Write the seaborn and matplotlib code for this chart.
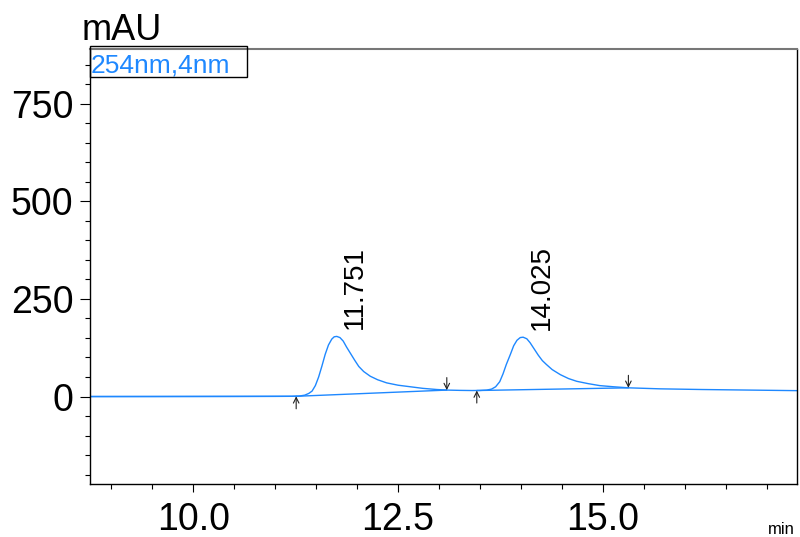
import matplotlib
matplotlib.use("Agg")
import matplotlib.pyplot as plt
from matplotlib.ticker import MultipleLocator, FixedLocator
from matplotlib.patches import Rectangle
import seaborn as sns
import pandas as pd

# chromatogram trace (min, mAU)
time_min = [8.74, 9.5, 10.5, 11.0, 11.2, 11.30, 11.36, 11.41, 11.45, 11.49,
            11.53, 11.57, 11.61, 11.65, 11.69, 11.72, 11.751, 11.79, 11.83, 11.87,
            11.92, 11.97, 12.02, 12.08, 12.16, 12.25, 12.36, 12.50, 12.65, 12.80,
            12.97, 13.10, 13.25, 13.40, 13.50, 13.58, 13.64, 13.69, 13.74, 13.78,
            13.82, 13.87, 13.91, 13.95, 13.99, 14.025, 14.07, 14.11, 14.16, 14.21,
            14.26, 14.31, 14.38, 14.48, 14.58, 14.68, 14.82, 14.96, 15.13, 15.31,
            15.70, 16.20, 16.80, 17.40]
signal_mau = [0.0, 0.0, 0.2, 0.4, 0.6, 1.5, 3.5, 8, 14, 28,
              50, 78, 108, 132, 147, 153, 154, 151, 142, 127,
              110, 93, 77, 64, 52, 43, 35, 29, 25, 21,
              18, 16.5, 15.8, 15.4, 15.6, 16.5, 19, 25, 38, 58,
              82, 108, 130, 144, 151, 152, 148, 138, 122, 106,
              92, 82, 69, 56, 46, 39, 33, 28, 25, 22.3,
              19.7, 18, 16.5, 15]

# integration baselines: start/end of each peak
peak_rt = [11.751, 14.025]
peak_top = [154, 152]
base_start_t = [11.256, 13.46]
base_start_v = [0.6, 15.4]
base_end_t = [13.094, 15.31]
base_end_v = [16.5, 22.3]

trace_color = "#1e88ff"

sns.set_style("ticks")
plt.rcParams["font.family"] = ["Liberation Sans", "DejaVu Sans"]
plt.rcParams["text.color"] = "black"
plt.rcParams["xtick.color"] = "black"
plt.rcParams["ytick.color"] = "black"

fig = plt.figure(figsize=(8, 5.37), dpi=100)
ax = fig.add_axes([0.1125, 0.0987, 0.884, 0.810])

df = pd.DataFrame({"t": time_min, "v": signal_mau})
sns.lineplot(data=df, x="t", y="v", ax=ax, color=trace_color, lw=1.0,
             sort=False, estimator=None)

arrow_style = dict(arrowstyle="->", color="#222222", lw=0.8,
                   mutation_scale=10, shrinkA=0, shrinkB=0)
for ts, vs, te, ve in zip(base_start_t, base_start_v, base_end_t, base_end_v):
    ax.plot([ts, te], [vs, ve], color=trace_color, lw=1.0)
    ax.annotate("", xy=(ts, vs), xytext=(0, -9), textcoords="offset points",
                arrowprops=arrow_style)
    ax.annotate("", xy=(te, ve), xytext=(0, 9), textcoords="offset points",
                arrowprops=arrow_style)

# left flat part of the baseline before first peak
ax.plot([time_min[0], base_start_t[0]], [0, base_start_v[0]], color=trace_color, lw=1.0)

for rt, top in zip(peak_rt, peak_top):
    ax.annotate(f"{rt:.3f}", xy=(rt, top), xytext=(4, 5), textcoords="offset points",
                rotation=90, ha="left", va="bottom", fontsize=20, color="black")

ax.set_xlim(8.74, 17.37)
ax.set_ylim(-224, 890)
ax.xaxis.set_major_locator(FixedLocator([10.0, 12.5, 15.0]))
ax.xaxis.set_minor_locator(MultipleLocator(0.5))
ax.yaxis.set_major_locator(FixedLocator([0, 250, 500, 750]))
ax.yaxis.set_minor_locator(MultipleLocator(50))
ax.set_xticklabels(["10.0", "12.5", "15.0"])
ax.tick_params(axis="both", which="major", labelsize=27, width=0.8,
               color="black", labelcolor="black")
ax.tick_params(axis="y", which="major", length=7, pad=5)
ax.tick_params(axis="y", which="minor", length=3.6, width=0.8, color="black")
ax.tick_params(axis="x", which="major", length=6, pad=7)
ax.tick_params(axis="x", which="minor", length=3.6, width=0.8, color="black")
ax.set_xlabel("")
ax.set_ylabel("")

for side in ["left", "bottom", "right"]:
    ax.spines[side].set_color("black")
    ax.spines[side].set_linewidth(1.0)
ax.spines["top"].set_color("#777777")
ax.spines["top"].set_linewidth(1.5)

ax.add_patch(Rectangle((0.0, 0.936), 0.222, 0.07, transform=ax.transAxes,
                       fill=False, ec="black", lw=1.0, clip_on=False, zorder=5))
ax.text(0.0015, 0.947, "254nm,4nm", transform=ax.transAxes, color=trace_color,
        fontsize=19, va="baseline", ha="left")

fig.text(0.1025, 0.9255, "mAU", fontsize=26, ha="left", va="baseline", color="black")
fig.text(0.994, 0.006, "min", fontsize=12, ha="right", va="baseline", color="black")

fig.savefig("out.png", dpi=100)
